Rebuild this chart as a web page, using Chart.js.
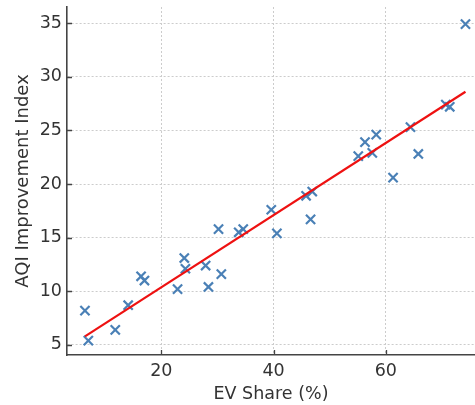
<!DOCTYPE html>
<html>
<head>
<meta charset="utf-8">
<script src="https://cdn.jsdelivr.net/npm/chart.js@4/dist/chart.umd.min.js"></script>
<style>
html,body{margin:0;padding:0;background:#fff;overflow:hidden;}
canvas{display:block;}
</style>
</head>
<body>
<canvas id="c" width="475" height="405"></canvas>
<script>
// EV share (%) for each observation
const evShare = [6.4, 7.0, 11.8, 14.1, 16.4, 17.0, 22.9, 24.1, 24.3, 27.9,
                 28.4, 30.2, 30.7, 33.8, 34.6, 39.6, 40.6, 45.8, 46.9, 46.6,
                 55.1, 56.3, 57.6, 58.3, 61.3, 64.4, 65.8, 70.7, 71.4, 74.2];
// AQI improvement index for each observation
const aqiIndex = [8.2, 5.4, 6.4, 8.7, 11.4, 11.0, 10.2, 13.1, 12.1, 12.4,
                  10.4, 15.8, 11.6, 15.5, 15.8, 17.6, 15.4, 18.9, 19.3, 16.7,
                  22.6, 23.9, 22.9, 24.6, 20.6, 25.3, 22.8, 27.4, 27.2, 34.9];
// Fitted regression line end points
const fitX = [6.4, 74.2];
const fitY = [5.8, 28.6];
// Tick labels
const xTicks = [20, 40, 60];
const yTicks = [5, 10, 15, 20, 25, 30, 35];

const points = evShare.map((x, i) => ({x: x, y: aqiIndex[i]}));
const fitLine = fitX.map((x, i) => ({x: x, y: fitY[i]}));

const FONT = "'DejaVu Sans', sans-serif";
const TXT = '#333333';

const innerTicks = {
  id: 'innerTicks',
  afterDatasetsDraw(chart) {
    const ctx = chart.ctx;
    const xs = chart.scales.x, ys = chart.scales.y;
    const a = chart.chartArea;
    ctx.save();
    ctx.strokeStyle = '#444';
    ctx.lineWidth = 1.3;
    ctx.beginPath();
    xs.ticks.forEach(t => {
      const px = Math.round(xs.getPixelForValue(t.value)) + 0.5;
      ctx.moveTo(px, a.bottom);
      ctx.lineTo(px, a.bottom - 5);
    });
    ys.ticks.forEach(t => {
      const py = Math.round(ys.getPixelForValue(t.value)) + 0.5;
      ctx.moveTo(a.left, py);
      ctx.lineTo(a.left + 5, py);
    });
    ctx.stroke();
    ctx.restore();
  }
};

new Chart(document.getElementById('c'), {
  type: 'scatter',
  data: {
    datasets: [
      {
        data: fitLine,
        showLine: true,
        borderColor: '#ee1111',
        borderWidth: 2.2,
        pointRadius: 0,
        fill: false
      },
      {
        data: points,
        pointStyle: 'crossRot',
        pointRadius: 6.5,
        pointBorderWidth: 2.2,
        borderColor: '#4a80b6',
        backgroundColor: '#4a80b6'
      }
    ]
  },
  options: {
    responsive: false,
    animation: false,
    layout: {autoPadding: false, padding: {top: 7, right: 0, left: 0, bottom: 0}},
    plugins: {legend: {display: false}, tooltip: {enabled: false}},
    scales: {
      x: {
        type: 'linear',
        min: 3.2,
        max: 75.9,
        afterBuildTicks: s => { s.ticks = xTicks.map(v => ({value: v})); },
        afterFit: s => { s.height = 50; s.paddingLeft = 0; s.paddingRight = 0; },
        grid: {color: '#cccccc', lineWidth: 1, drawTicks: false},
        border: {display: true, color: '#444', width: 1.6, dash: [2, 2]},
        ticks: {color: TXT, font: {family: FONT, size: 17.5}, padding: 6},
        title: {display: true, text: 'EV Share (%)', color: TXT,
                font: {family: FONT, size: 17.5}, padding: {top: 0, bottom: 0}}
      },
      y: {
        type: 'linear',
        min: 4.06,
        max: 36.5,
        afterBuildTicks: s => { s.ticks = yTicks.map(v => ({value: v})); },
        afterFit: s => { s.width = 67; s.paddingTop = 0; s.paddingBottom = 0; },
        grid: {color: '#cccccc', lineWidth: 1, drawTicks: false},
        border: {display: true, color: '#444', width: 1.6, dash: [2, 2]},
        ticks: {color: TXT, font: {family: FONT, size: 17.5}, padding: 5},
        title: {display: true, text: 'AQI Improvement Index', color: TXT,
                font: {family: FONT, size: 18}, padding: {top: 13, bottom: 0}}
      }
    }
  },
  plugins: [innerTicks]
});
</script>
</body>
</html>
